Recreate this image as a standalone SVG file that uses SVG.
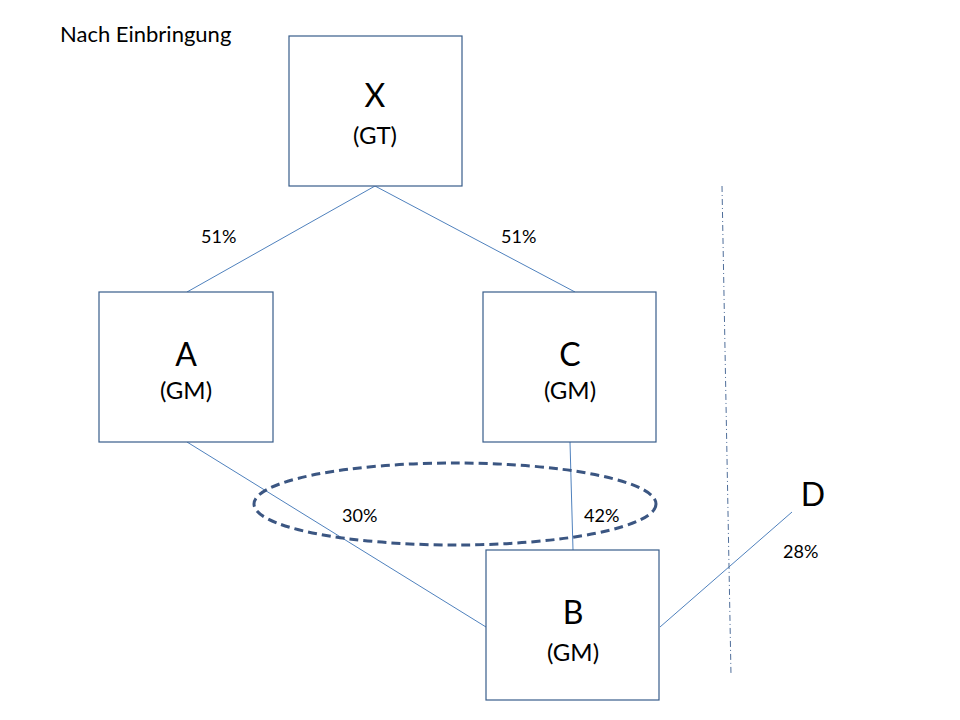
<svg xmlns="http://www.w3.org/2000/svg" width="960" height="720" viewBox="0 0 960 720">
<style>
.box{fill:#fff;stroke:#385D8A;stroke-width:1.2}
.ln{stroke:#4F81BD;stroke-width:1;fill:none}
.t{font-family:Lato,"Liberation Sans",sans-serif;fill:#000;text-anchor:middle}
.big{font-size:32px}
.sub{font-size:24px}
.pct{font-size:18px;font-family:Lato,"Liberation Sans",sans-serif;fill:#000}
</style>
<rect width="960" height="720" fill="#fff"/>
<text x="60" y="42" style="font-family:Lato,'Liberation Sans',sans-serif;font-size:22px">Nach Einbringung</text>
<g id="connectors">
<line class="ln" x1="375" y1="186" x2="187" y2="292"/>
<line class="ln" x1="375" y1="186" x2="575" y2="292"/>
<line class="ln" x1="187" y1="442" x2="486" y2="627"/>
<line class="ln" x1="570" y1="442" x2="573" y2="550"/>
<line class="ln" x1="660" y1="627" x2="792" y2="512"/>
<line x1="722" y1="186" x2="731" y2="675" stroke="#4F6E9A" stroke-width="1" stroke-dasharray="6,3,1,3"/>
<ellipse cx="455" cy="504" rx="201" ry="41" fill="none" stroke="#3B5682" stroke-width="3" stroke-dasharray="9,5"/>
</g>
<g id="X"><rect class="box" x="289" y="36" width="173" height="150"/><text class="t big" x="375" y="107">X</text><text class="t sub" x="375" y="144">(GT)</text></g>
<g id="A"><rect class="box" x="99" y="292" width="174" height="150"/><text class="t big" x="186" y="366">A</text><text class="t sub" x="186" y="399">(GM)</text></g>
<g id="C"><rect class="box" x="483" y="292" width="173" height="150"/><text class="t big" x="570" y="366">C</text><text class="t sub" x="570" y="399">(GM)</text></g>
<g id="B"><rect class="box" x="486" y="550" width="173" height="150"/><text class="t big" x="573" y="624">B</text><text class="t sub" x="573" y="661">(GM)</text></g>
<g id="D"><text class="t big" x="813" y="506">D</text></g>
<g id="labels">
<text class="pct" x="201" y="243">51%</text>
<text class="pct" x="501" y="243">51%</text>
<text class="pct" x="342" y="522">30%</text>
<text class="pct" x="584" y="522">42%</text>
<text class="pct" x="783" y="558">28%</text>
</g>
</svg>
